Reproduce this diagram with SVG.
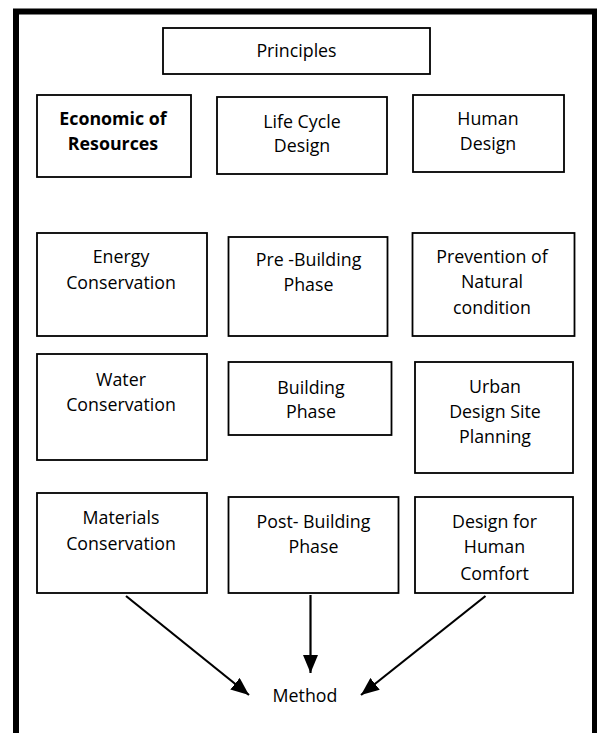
<svg xmlns="http://www.w3.org/2000/svg" width="597" height="733" viewBox="0 0 597 733">
<style>
.box{fill:#fff;stroke:#000;stroke-width:1.8}
text{font-family:"Open Sans","Noto Sans","Liberation Sans",sans-serif;font-size:17.8px;fill:#000;text-anchor:middle}
.b{font-weight:bold}
.conn{stroke:#000;stroke-width:2.2;fill:none}
</style>
<defs>
<marker id="arr" viewBox="0 0 18 15" refX="18" refY="7.5" markerWidth="18" markerHeight="15" markerUnits="userSpaceOnUse" orient="auto">
<path d="M0,0 L18,7.5 L0,15 z" fill="#000"/>
</marker>
</defs>
<rect width="597" height="733" fill="#fff"/>
<rect id="frame" x="16" y="11.5" width="579" height="800" fill="none" stroke="#000" stroke-width="6"/>

<g id="principles"><rect class="box" x="163" y="28" width="267" height="46"/><text x="296.5" y="57">Principles</text></g>

<g id="economic"><rect class="box" x="37" y="95" width="154" height="82"/><text class="b" x="113" y="125">Economic of</text><text class="b" x="113" y="150">Resources</text></g>
<g id="lifecycle"><rect class="box" x="217" y="97" width="170" height="77"/><text x="302" y="128">Life Cycle</text><text x="302" y="152">Design</text></g>
<g id="human"><rect class="box" x="413" y="95" width="151" height="77"/><text x="488" y="125">Human</text><text x="488" y="150">Design</text></g>

<g id="energy"><rect class="box" x="37" y="233" width="170" height="103"/><text x="121" y="263">Energy</text><text x="121" y="289">Conservation</text></g>
<g id="prebuilding"><rect class="box" x="228.5" y="237" width="159" height="99"/><text x="308.5" y="266">Pre -Building</text><text x="308.5" y="291">Phase</text></g>
<g id="prevention"><rect class="box" x="412.5" y="233" width="162" height="103"/><text x="492" y="263">Prevention of</text><text x="492" y="288">Natural</text><text x="492" y="314">condition</text></g>

<g id="water"><rect class="box" x="37" y="354" width="170" height="106"/><text x="121" y="386">Water</text><text x="121" y="411">Conservation</text></g>
<g id="building"><rect class="box" x="228.5" y="362" width="163" height="73"/><text x="311" y="394">Building</text><text x="311" y="418">Phase</text></g>
<g id="urban"><rect class="box" x="415" y="362" width="158" height="111"/><text x="495" y="393">Urban</text><text x="495" y="418">Design Site</text><text x="495" y="443">Planning</text></g>

<g id="materials"><rect class="box" x="37" y="493" width="170" height="100"/><text x="121" y="524">Materials</text><text x="121" y="550">Conservation</text></g>
<g id="postbuilding"><rect class="box" x="228.5" y="497" width="170" height="96"/><text x="313.5" y="528">Post- Building</text><text x="313.5" y="553">Phase</text></g>
<g id="comfort"><rect class="box" x="415" y="497" width="158" height="96"/><text x="494.5" y="528">Design for</text><text x="494.5" y="553">Human</text><text x="494.5" y="580">Comfort</text></g>

<g id="method"><text x="305" y="702">Method</text></g>

<g id="connectors">
<line class="conn" x1="126" y1="596" x2="249" y2="695" marker-end="url(#arr)"/>
<line class="conn" x1="310.5" y1="595" x2="310.5" y2="673" marker-end="url(#arr)"/>
<line class="conn" x1="485.5" y1="596" x2="361" y2="695" marker-end="url(#arr)"/>
</g>
</svg>
